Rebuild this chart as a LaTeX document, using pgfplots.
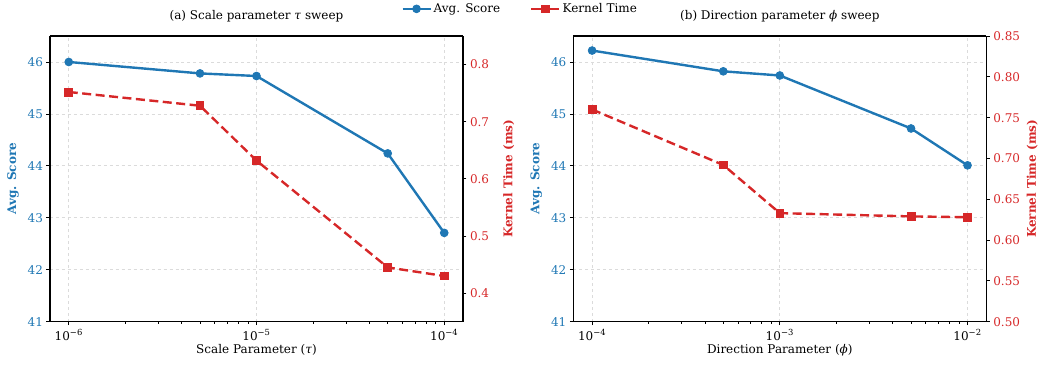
\documentclass[border=0pt]{standalone}
\usepackage{fontspec}
\setmainfont{DejaVu Serif}
\usepackage{pgfplots}
\pgfplotsset{compat=1.18}
\definecolor{tabblue}{RGB}{31,119,180}
\definecolor{tabred}{RGB}{214,39,40}
\pgfplotsset{
  every axis/.append style={font=\fontsize{12bp}{14bp}\selectfont},
  common/.style={
    scale only axis, width=413bp, height=285.7bp, anchor=south west,
    tick align=outside, axis line style={line width=1.2bp},
    major tick length=3.5bp, minor tick length=2bp,
    every tick/.style={black, line width=0.8bp},
    /pgf/number format/assume math mode=true,
    xtick pos=bottom,
    xticklabel style={yshift=-1bp},
    xlabel style={at={(axis description cs:0.5,0)}, anchor=base, yshift=-31.5bp},
    title style={at={(axis description cs:0.5,1)}, anchor=base, yshift=11bp},
  },
  leftax/.style={
    common, ymin=41, ymax=46.5, ytick={41,42,43,44,45,46},
    axis y line*=left,
    yticklabel style={text=tabblue},
    grid=major, major grid style={black!14, dashed, line width=0.8bp},
    every axis y label/.style={at={(axis description cs:-0.0896,0.5)}, rotate=90, anchor=center, font=\fontsize{12bp}{14bp}\selectfont\bfseries, text=tabblue},
    ylabel={Avg. Score},
  },
  rightax/.style={
    common, axis y line*=right, axis x line=none,
    yticklabel style={text=tabred},
    every axis y label/.style={at={(axis description cs:1.111,0.5)}, rotate=90, anchor=center, font=\fontsize{12bp}{14bp}\selectfont\bfseries, text=tabred},
    ylabel={Kernel Time (ms)},
  },
  bl/.style={tabblue, line width=2.4bp, mark=*, mark size=3.9bp, mark options={solid, fill=tabblue, line width=0.8bp}},
  rd/.style={tabred, line width=2.4bp, dash pattern=on 9bp off 4.5bp, mark=square*, mark size=3.9bp, mark options={solid, fill=tabred, line width=0.8bp}},
}
\begin{document}
\begin{tikzpicture}
\path[use as bounding box] (0,0) rectangle (1049bp,-366bp);
% ---------- panel (a)
\begin{semilogxaxis}[leftax, at={(50bp,-321.7bp)},
  xmin=7.943e-7, xmax=1.2589e-4,
  xtick={1e-6,1e-5,1e-4}, xticklabels={10\textsuperscript{−6},10\textsuperscript{−5},10\textsuperscript{−4}},
  xlabel={Scale Parameter (\textit{τ})},
  title={(a) Scale parameter \textit{τ} sweep}]
\addplot[bl] coordinates {(1e-6,46.00) (5e-6,45.78) (1e-5,45.73) (5e-5,44.24) (1e-4,42.71)};
\end{semilogxaxis}
\begin{semilogxaxis}[rightax, at={(50bp,-321.7bp)},
  xmin=7.943e-7, xmax=1.2589e-4,
  ymin=0.35, ymax=0.85, ytick={0.4,0.5,0.6,0.7,0.8},
  yticklabel style={/pgf/number format/.cd, fixed, fixed zerofill, precision=1},
  legend columns=2,
  legend style={draw=none, fill=none, at={(axis description cs:0.843,1.095)}, anchor=west,
    /tikz/every even column/.append style={column sep=28bp}, font=\fontsize{12bp}{14bp}\selectfont},
  legend image code/.code={\draw[mark repeat=2,mark phase=2,#1,solid] plot coordinates {(0bp,0bp) (14bp,0bp) (28bp,0bp)};},
  ]
\addlegendimage{bl}
\addlegendentry{Avg. Score}
\addplot[rd] coordinates {(1e-6,0.752) (5e-6,0.728) (1e-5,0.632) (5e-5,0.445) (1e-4,0.430)};
\addlegendentry{Kernel Time}
\end{semilogxaxis}
% ---------- panel (b)
\begin{semilogxaxis}[leftax, at={(573.3bp,-321.7bp)},
  xmin=7.943e-5, xmax=1.2589e-2,
  xtick={1e-4,1e-3,1e-2}, xticklabels={10\textsuperscript{−4},10\textsuperscript{−3},10\textsuperscript{−2}},
  xlabel={Direction Parameter (\textit{ϕ})},
  title={(b) Direction parameter \textit{ϕ} sweep}]
\addplot[bl] coordinates {(1e-4,46.22) (5e-4,45.82) (1e-3,45.74) (5e-3,44.72) (1e-2,44.01)};
\end{semilogxaxis}
\begin{semilogxaxis}[rightax, at={(573.3bp,-321.7bp)},
  xmin=7.943e-5, xmax=1.2589e-2,
  ymin=0.5, ymax=0.85, ytick={0.50,0.55,0.60,0.65,0.70,0.75,0.80,0.85},
  yticklabel style={/pgf/number format/.cd, fixed, fixed zerofill, precision=2}]
\addplot[rd] coordinates {(1e-4,0.760) (5e-4,0.692) (1e-3,0.633) (5e-3,0.629) (1e-2,0.628)};
\end{semilogxaxis}
\end{tikzpicture}
\end{document}
